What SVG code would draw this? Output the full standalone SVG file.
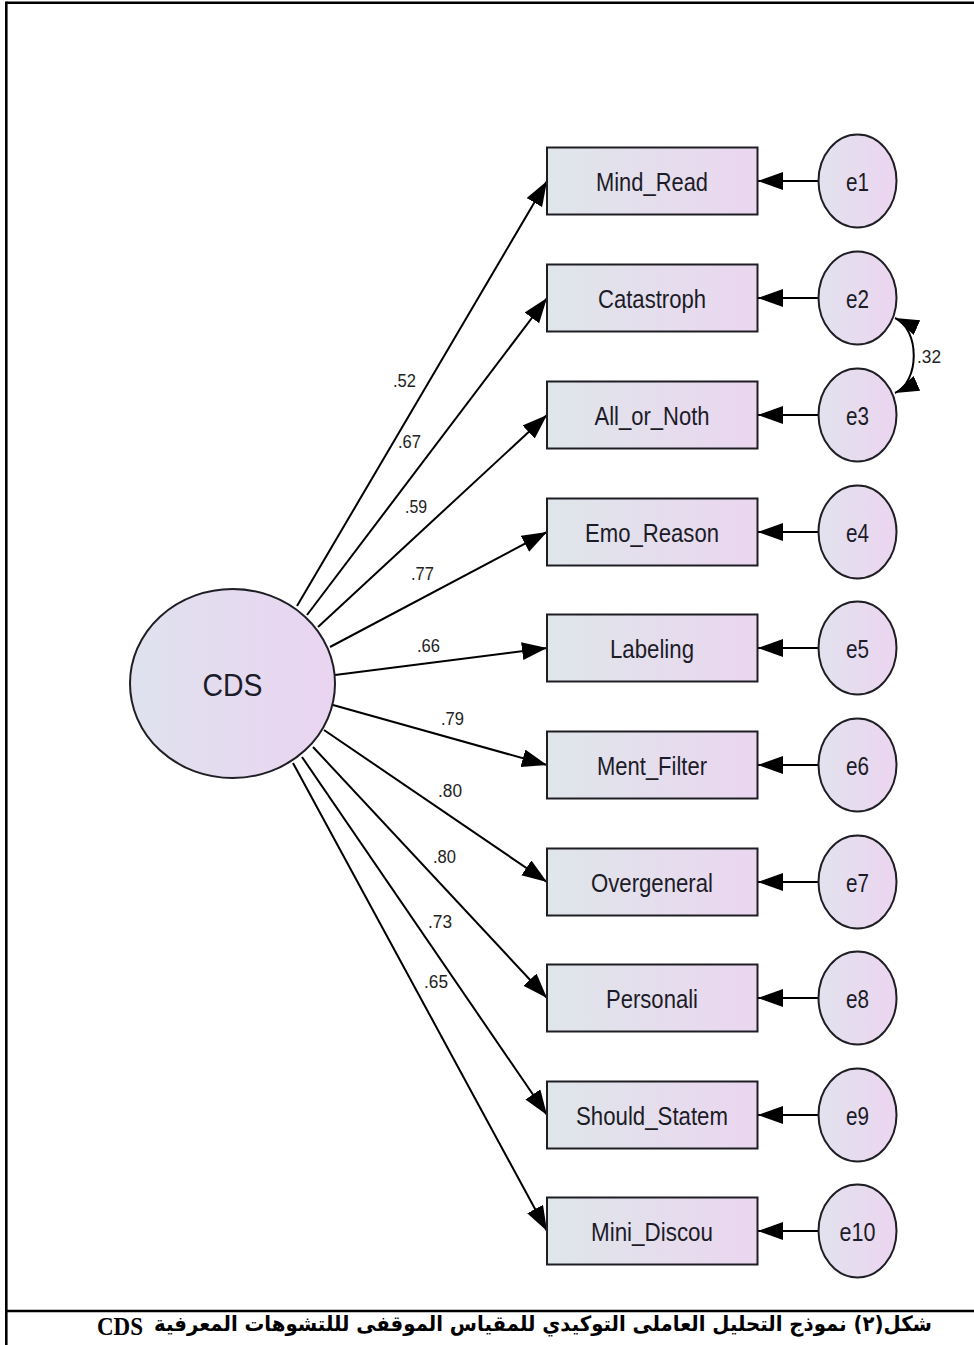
<svg xmlns="http://www.w3.org/2000/svg" width="974" height="1345" viewBox="0 0 974 1345">
<style>
.box{stroke:#1e1e24;stroke-width:2;fill:url(#gBox)}
.err{stroke:#1e1e24;stroke-width:2;fill:url(#gErr)}
.lbl{font-family:"Liberation Sans",Arial,sans-serif;font-size:26px;fill:#1c1c28;text-anchor:middle}
.coef{font-family:"Liberation Sans",Arial,sans-serif;font-size:18px;fill:#222}
.cn{stroke:#000;stroke-width:2;fill:none;marker-end:url(#arr)}
.frame{stroke:#000;stroke-width:2.6;fill:none}
</style>
<defs>
<linearGradient id="gBox" x1="0" y1="0" x2="1" y2="0">
<stop offset="0" stop-color="#dfe6ea"/>
<stop offset="1" stop-color="#ebd6f0"/>
</linearGradient>
<linearGradient id="gErr" x1="0" y1="0" x2="1" y2="0">
<stop offset="0" stop-color="#e2e2ee"/>
<stop offset="1" stop-color="#ecd5f0"/>
</linearGradient>
<linearGradient id="gCDS" x1="0" y1="0" x2="1" y2="0">
<stop offset="0" stop-color="#dfe2ee"/>
<stop offset="1" stop-color="#ead4f1"/>
</linearGradient>
<marker id="arr" markerUnits="userSpaceOnUse" markerWidth="27" markerHeight="19" refX="25" refY="9" orient="auto">
<path d="M0,0 L25,9 L0,18 z" fill="#000"/>
</marker>
<marker id="arr2" markerUnits="userSpaceOnUse" markerWidth="26" markerHeight="18" refX="24" refY="8" orient="auto-start-reverse">
<path d="M0,0 L24,8 L0,16 z" fill="#000"/>
</marker>
</defs>
<rect x="0" y="0" width="974" height="1345" fill="#fff"/>
<g id="frame">
<line class="frame" x1="6.3" y1="2.8" x2="974" y2="2.8"/>
<line class="frame" x1="6.3" y1="1.5" x2="6.3" y2="1345"/>
<line class="frame" x1="6.3" y1="1311" x2="974" y2="1311"/>
</g>
<g id="connectors">
<path class="cn" d="M297,606 L547,181"/>
<path class="cn" d="M307,615 L547,298"/>
<path class="cn" d="M318,627 L547,415"/>
<path class="cn" d="M330,647 L547,532"/>
<path class="cn" d="M335,675 L547,648"/>
<path class="cn" d="M333,705 L547,765"/>
<path class="cn" d="M324,730 L547,882"/>
<path class="cn" d="M313,747 L547,998"/>
<path class="cn" d="M302,757 L547,1115"/>
<path class="cn" d="M293,763 L547,1231"/>
<path class="cn" d="M818.5,181 L758,181"/>
<path class="cn" d="M818.5,298 L758,298"/>
<path class="cn" d="M818.5,415 L758,415"/>
<path class="cn" d="M818.5,532 L758,532"/>
<path class="cn" d="M818.5,648 L758,648"/>
<path class="cn" d="M818.5,765 L758,765"/>
<path class="cn" d="M818.5,882 L758,882"/>
<path class="cn" d="M818.5,998 L758,998"/>
<path class="cn" d="M818.5,1115 L758,1115"/>
<path class="cn" d="M818.5,1231 L758,1231"/>
<path d="M895,318 C920,329 920,382 895,393" stroke="#000" stroke-width="2" fill="none" marker-start="url(#arr2)" marker-end="url(#arr2)"/>
<text class="coef" x="393" y="387" textLength="23" lengthAdjust="spacingAndGlyphs">.52</text>
<text class="coef" x="398" y="448" textLength="23" lengthAdjust="spacingAndGlyphs">.67</text>
<text class="coef" x="405" y="513" textLength="22" lengthAdjust="spacingAndGlyphs">.59</text>
<text class="coef" x="411" y="580" textLength="23" lengthAdjust="spacingAndGlyphs">.77</text>
<text class="coef" x="417" y="652" textLength="23" lengthAdjust="spacingAndGlyphs">.66</text>
<text class="coef" x="441" y="725" textLength="23" lengthAdjust="spacingAndGlyphs">.79</text>
<text class="coef" x="438" y="797" textLength="24" lengthAdjust="spacingAndGlyphs">.80</text>
<text class="coef" x="433" y="863" textLength="23" lengthAdjust="spacingAndGlyphs">.80</text>
<text class="coef" x="428" y="928" textLength="24" lengthAdjust="spacingAndGlyphs">.73</text>
<text class="coef" x="424" y="988" textLength="24" lengthAdjust="spacingAndGlyphs">.65</text>
<text class="coef" x="917" y="363" textLength="24" lengthAdjust="spacingAndGlyphs">.32</text>
</g>
<g id="CDS">
<ellipse cx="232.5" cy="683.5" rx="102.5" ry="94.5" fill="url(#gCDS)" stroke="#1e1e24" stroke-width="2"/>
<text class="lbl" x="232.5" y="696" style="font-size:32px" textLength="60" lengthAdjust="spacingAndGlyphs">CDS</text>
</g>
<g id="Mind_Read"><rect class="box" x="547" y="147.5" width="210.5" height="67"/><text class="lbl" x="652" y="190.5" textLength="112" lengthAdjust="spacingAndGlyphs">Mind_Read</text></g>
<g id="Catastroph"><rect class="box" x="547" y="264.5" width="210.5" height="67"/><text class="lbl" x="652" y="307.5" textLength="108" lengthAdjust="spacingAndGlyphs">Catastroph</text></g>
<g id="All_or_Noth"><rect class="box" x="547" y="381.5" width="210.5" height="67"/><text class="lbl" x="652" y="424.5" textLength="115" lengthAdjust="spacingAndGlyphs">All_or_Noth</text></g>
<g id="Emo_Reason"><rect class="box" x="547" y="498.5" width="210.5" height="67"/><text class="lbl" x="652" y="541.5" textLength="134" lengthAdjust="spacingAndGlyphs">Emo_Reason</text></g>
<g id="Labeling"><rect class="box" x="547" y="614.5" width="210.5" height="67"/><text class="lbl" x="652" y="657.5" textLength="84" lengthAdjust="spacingAndGlyphs">Labeling</text></g>
<g id="Ment_Filter"><rect class="box" x="547" y="731.5" width="210.5" height="67"/><text class="lbl" x="652" y="774.5" textLength="110" lengthAdjust="spacingAndGlyphs">Ment_Filter</text></g>
<g id="Overgeneral"><rect class="box" x="547" y="848.5" width="210.5" height="67"/><text class="lbl" x="652" y="891.5" textLength="122" lengthAdjust="spacingAndGlyphs">Overgeneral</text></g>
<g id="Personali"><rect class="box" x="547" y="964.5" width="210.5" height="67"/><text class="lbl" x="652" y="1007.5" textLength="92" lengthAdjust="spacingAndGlyphs">Personali</text></g>
<g id="Should_Statem"><rect class="box" x="547" y="1081.5" width="210.5" height="67"/><text class="lbl" x="652" y="1124.5" textLength="152" lengthAdjust="spacingAndGlyphs">Should_Statem</text></g>
<g id="Mini_Discou"><rect class="box" x="547" y="1197.5" width="210.5" height="67"/><text class="lbl" x="652" y="1240.5" textLength="122" lengthAdjust="spacingAndGlyphs">Mini_Discou</text></g>
<g id="e1"><ellipse class="err" cx="857.5" cy="181" rx="39" ry="46.5"/><text class="lbl" x="857.5" y="190.5" textLength="23" lengthAdjust="spacingAndGlyphs">e1</text></g>
<g id="e2"><ellipse class="err" cx="857.5" cy="298" rx="39" ry="46.5"/><text class="lbl" x="857.5" y="307.5" textLength="23" lengthAdjust="spacingAndGlyphs">e2</text></g>
<g id="e3"><ellipse class="err" cx="857.5" cy="415" rx="39" ry="46.5"/><text class="lbl" x="857.5" y="424.5" textLength="23" lengthAdjust="spacingAndGlyphs">e3</text></g>
<g id="e4"><ellipse class="err" cx="857.5" cy="532" rx="39" ry="46.5"/><text class="lbl" x="857.5" y="541.5" textLength="23" lengthAdjust="spacingAndGlyphs">e4</text></g>
<g id="e5"><ellipse class="err" cx="857.5" cy="648" rx="39" ry="46.5"/><text class="lbl" x="857.5" y="657.5" textLength="23" lengthAdjust="spacingAndGlyphs">e5</text></g>
<g id="e6"><ellipse class="err" cx="857.5" cy="765" rx="39" ry="46.5"/><text class="lbl" x="857.5" y="774.5" textLength="23" lengthAdjust="spacingAndGlyphs">e6</text></g>
<g id="e7"><ellipse class="err" cx="857.5" cy="882" rx="39" ry="46.5"/><text class="lbl" x="857.5" y="891.5" textLength="23" lengthAdjust="spacingAndGlyphs">e7</text></g>
<g id="e8"><ellipse class="err" cx="857.5" cy="998" rx="39" ry="46.5"/><text class="lbl" x="857.5" y="1007.5" textLength="23" lengthAdjust="spacingAndGlyphs">e8</text></g>
<g id="e9"><ellipse class="err" cx="857.5" cy="1115" rx="39" ry="46.5"/><text class="lbl" x="857.5" y="1124.5" textLength="23" lengthAdjust="spacingAndGlyphs">e9</text></g>
<g id="e10"><ellipse class="err" cx="857.5" cy="1231" rx="39" ry="46.5"/><text class="lbl" x="857.5" y="1240.5" textLength="36" lengthAdjust="spacingAndGlyphs">e10</text></g>
<g id="caption">
<text x="97" y="1335" font-family="'Liberation Serif','Times New Roman',serif" font-weight="bold" font-size="25" fill="#000" textLength="46" lengthAdjust="spacingAndGlyphs">CDS</text>
<text x="932" y="1331" text-anchor="end" font-family="'DejaVu Sans',sans-serif" font-weight="bold" font-size="21" fill="#000" textLength="778" lengthAdjust="spacingAndGlyphs">شكل(٢) نموذج التحليل العاملى التوكيدي للمقياس الموقفى لللتشوهات المعرفية</text>
</g>
</svg>
